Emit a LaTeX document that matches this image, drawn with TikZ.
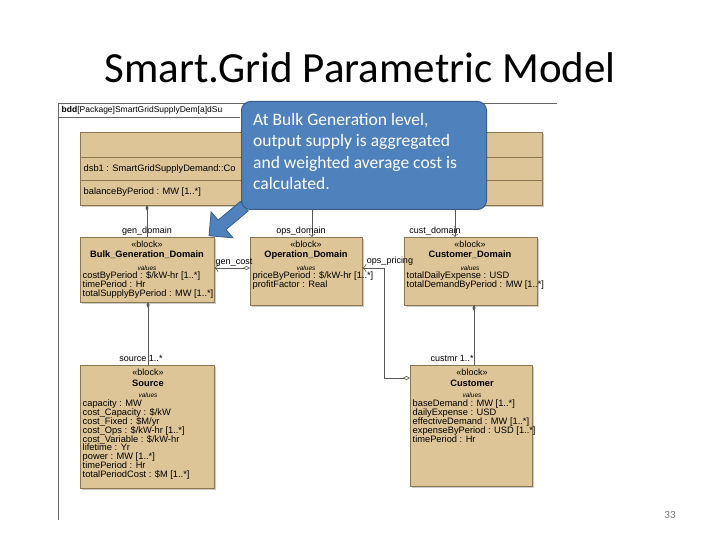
\documentclass[tikz,border=0pt]{standalone}
\usepackage{fontspec}
\setmainfont{Liberation Sans}
\newfontfamily\calfnt{Carlito}
\usetikzlibrary{arrows.meta,shapes.arrows}
\definecolor{blk}{HTML}{DDC597}
\definecolor{blkedge}{HTML}{8A7650}
\definecolor{callout}{HTML}{4F81BD}
\definecolor{calledge}{HTML}{385D8A}
\tikzset{
 blk/.style={draw=blkedge,fill=blk,anchor=north west,inner sep=0,minimum width=#1},
 t/.style={font=\fontsize{9.3}{8.9}\selectfont,inner sep=0.5,anchor=north west,align=left},
 c/.style={font=\fontsize{9}{10}\selectfont,inner sep=0.5,align=center},
 lab/.style={font=\fontsize{9}{10}\selectfont,inner sep=0.5},
 con/.style={draw=black!65,line width=0.6pt},
 comp/.style={-{Diamond[length=6pt,width=3pt]}},
}
\begin{document}
\begin{tikzpicture}[x=1pt,y=-1pt]
\useasboundingbox (0,0) rectangle (720,540);
\fill[white] (0,0) rectangle (720,540);
\node[font=\calfnt\fontsize{43}{45}\selectfont] (title) at (360,68) {Smart.Grid Parametric Model};
% frame
\draw[black!60] (58,520) -- (58,103) -- (557,103);
\draw[black!60] (58,117) -- (240,117);
\node[t,font=\fontsize{8.5}{9}\selectfont] (hdr) at (61,106) {\textbf{bdd}[Package]SmartGridSupplyDem[a]dSu};
% shadows
\foreach \a/\b/\c/\d in {80/132/542/205,80/237/214/302,250/237/362/305,404/237/537/305,80/365/214/488,410/365/532/486}
 \fill[black!20] (\a+2,\b+2) rectangle (\c+2,\d+2);
% top block
\node[blk=462pt,minimum height=73pt] (top) at (80,132) {};
\draw[blkedge] (80,157) -- (542,157) (80,180) -- (542,180);
\node[t] (dsb) at (83,164) {dsb1 : SmartGridSupplyDemand::Co};
\node[t] (bal) at (83,187) {balanceByPeriod : MW [1..*]};
% bulk
\node[blk=134pt,minimum height=65pt] (bulk) at (80,237) {};
\node[c] (bs) at (147,244) {«block»};
\node[c,font=\bfseries\fontsize{9.3}{10}\selectfont] (bn) at (147,255) {Bulk\_Generation\_Domain};
\node[c,font=\itshape\fontsize{6.5}{7}\selectfont] (bv) at (147,268) {values};
\node[t] (bt) at (82,271) {costByPeriod : \$/kW-hr [1..*]\\timePeriod : Hr\\totalSupplyByPeriod : MW [1..*]};
% ops
\node[blk=112pt,minimum height=68pt] (ops) at (250,237) {};
\node[c] (os) at (306,244) {«block»};
\node[c,font=\bfseries\fontsize{9.3}{10}\selectfont] (on) at (306,255) {Operation\_Domain};
\node[c,font=\itshape\fontsize{6.5}{7}\selectfont] (ov) at (306,268) {values};
\node[t] (ot) at (252,271) {priceByPeriod : \$/kW-hr [1..*]\\profitFactor : Real};
% customer domain
\node[blk=133pt,minimum height=68pt] (cd) at (404,237) {};
\node[c] (cs) at (470,244) {«block»};
\node[c,font=\bfseries\fontsize{9.3}{10}\selectfont] (cn) at (470,255) {Customer\_Domain};
\node[c,font=\itshape\fontsize{6.5}{7}\selectfont] (cv) at (470,268) {values};
\node[t] (ct) at (406,271) {totalDailyExpense : USD\\totalDemandByPeriod : MW [1..*]};
% source
\node[blk=134pt,minimum height=123pt] (src) at (80,365) {};
\node[c] (ss) at (148,372) {«block»};
\node[c,font=\bfseries\fontsize{9.3}{10}\selectfont] (sn) at (148,383) {Source};
\node[c,font=\itshape\fontsize{6.5}{7}\selectfont] (sv) at (148,395) {values};
\node[t] (st) at (82,399) {capacity : MW\\cost\_Capacity : \$/kW\\cost\_Fixed : \$M/yr\\cost\_Ops : \$/kW-hr [1..*]\\cost\_Variable : \$/kW-hr\\lifetime : Yr\\power : MW [1..*]\\timePeriod : Hr\\totalPeriodCost : \$M [1..*]};
% customer
\node[blk=122pt,minimum height=121pt] (cus) at (410,365) {};
\node[c] (us) at (472,372) {«block»};
\node[c,font=\bfseries\fontsize{9.3}{10}\selectfont] (un) at (472,383) {Customer};
\node[c,font=\itshape\fontsize{6.5}{7}\selectfont] (uv) at (472,395) {values};
\node[t] (ut) at (412,399) {baseDemand : MW [1..*]\\dailyExpense : USD\\effectiveDemand : MW [1..*]\\expenseByPeriod : USD [1..*]\\timePeriod : Hr};
% connectors
\coordinate (g1) at (147,205); \coordinate (g2) at (147,237);
\coordinate (o1) at (312,205); \coordinate (o2) at (312,237);
\coordinate (k1) at (455,205); \coordinate (k2) at (455,237);
\draw[con,comp] (g2) -- (g1);
\draw[con,->] (o1) -- (o2);
\draw[con,->] (k1) -- (k2);
\node[lab] (gl) at (147,231) {gen\_domain};
\node[lab] (ol) at (301,231) {ops\_domain};
\node[lab] (kl) at (435,231) {cust\_domain};
\draw[con,{<[length=4pt]}-{Diamond[open,length=7pt,width=4pt]}] (bulk.east|-0,268) -- (ops.west|-0,268);
\node[lab] (gc) at (234,263) {gen\_cost};
\coordinate (p1) at (384,268); \coordinate (p2) at (384,378);
\draw[con,{<[length=4pt]}-{Diamond[open,length=7pt,width=4pt]}] (ops.east|-0,268) -- (p1) -- (p2) -- (cus.west|-0,378);
\node[lab] (pl) at (390,261) {ops\_pricing};
\draw[con,comp] (148,365) -- (148,302);
\node[lab] (sl) at (141,358) {source 1..*};
\draw[con,comp] (474,365) -- (474,305);
\node[lab] (cl) at (452,358) {custmr 1..*};
% callout
\node[shape=single arrow,fill=callout,draw=calledge,line width=0.8pt,minimum height=46pt,minimum width=34pt,single arrow head extend=6pt,rotate=-140,inner sep=3pt] (arr) at (229,219) {};
\node[draw=calledge,fill=callout,line width=1pt,rounded corners=9pt,anchor=north west,minimum width=245pt,minimum height=108pt] (call) at (241,101) {};
\node[anchor=north west,font=\calfnt\fontsize{17.5}{21.5}\selectfont,text=white,align=left,inner sep=0] (ctx) at (253,113) {At Bulk Generation level,\\output supply is aggregated\\and weighted average cost is\\calculated.};
\node[font=\calfnt\fontsize{11}{12}\selectfont,text=black!55] (pg) at (670,515) {33};
\end{tikzpicture}
\end{document}
